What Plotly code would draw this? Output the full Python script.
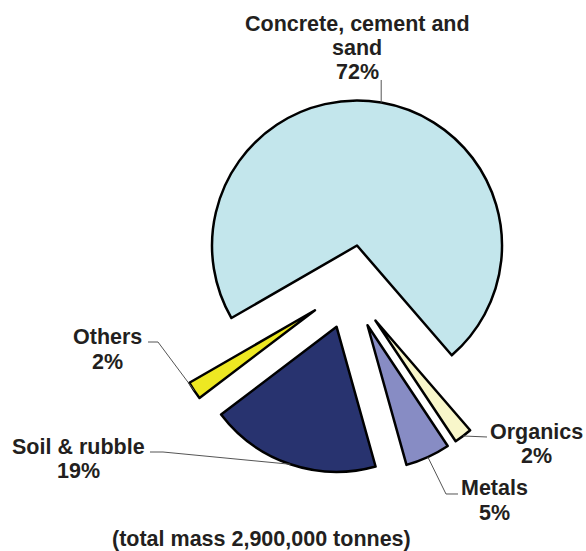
import math
import plotly.graph_objects as go

# ---- data ----
categories = ["Concrete, cement and sand", "Organics", "Metals", "Soil & rubble", "Others"]
values = [72, 2, 5, 19, 2]
colors = ["#C3E6EC", "#F8F6CA", "#878CC4", "#28336F", "#EDE822"]
label_lines = [
    ["Concrete, cement and", "sand", "72%"],
    ["Organics", "2%"],
    ["Metals", "5%"],
    ["Soil & rubble", "19%"],
    ["Others", "2%"],
]
footnote = "(total mass 2,900,000 tonnes)"

# ---- layout geometry (pixels) ----
W, H = 586, 551
CX, CY = 350, 287
R = 145
PULL = 0.29
ROTATION = 240
LINE_H = 24.5
FONT = dict(family="Liberation Sans, Arial, sans-serif", size=21.5, color="#231F20", weight="bold")

label_pos = [(357, 23.5), (536, 431.7), (494, 488), (78, 446.7), (107.5, 337)]
leader_tail = [
    [(None, 80)],
    [(487, 437)],
    [(446, 494), (458, 494)],
    [(163, 452), (150, 452)],
    [(158, 342), (148, 342)],
]

half = R * (1 + PULL)
domain_x = [(CX - half) / W, (CX + half) / W]
domain_y = [(H - CY - half) / H, (H - CY + half) / H]


def px(x):
    return x / W


def py(y):
    return 1 - y / H


total = sum(values)
fig = go.Figure(go.Pie(
    labels=categories, values=values, sort=False, direction="clockwise",
    rotation=ROTATION, pull=[PULL] * len(values), textinfo="none",
    hoverinfo="label+percent",
    marker=dict(colors=colors, line=dict(color="black", width=2.5)),
    domain=dict(x=domain_x, y=domain_y), showlegend=False,
))

annotations = []
shapes = []
cum = 0
for i, v in enumerate(values):
    mid = math.radians(ROTATION + (cum + v / 2) / total * 360)
    cum += v
    d = R * (1 + PULL)
    ax, ay = CX + d * math.sin(mid), CY - d * math.cos(mid)
    pts = [(ax, ay)] + [((ax if x is None else x), y) for x, y in leader_tail[i]]
    path = "M " + " L ".join(f"{px(x):.5f},{py(y):.5f}" for x, y in pts)
    shapes.append(dict(type="path", xref="paper", yref="paper", path=path,
                       line=dict(color="#555555", width=1)))
    lx, ly = label_pos[i]
    for j, t in enumerate(label_lines[i]):
        annotations.append(dict(text=t, x=px(lx), y=py(ly + j * LINE_H), xref="paper", yref="paper",
                                xanchor="center", yanchor="middle", showarrow=False, font=FONT))

annotations.append(dict(text=footnote, x=px(261.5), y=py(538.5), xref="paper", yref="paper",
                        xanchor="center", yanchor="middle", showarrow=False, font=FONT))

fig.update_layout(width=W, height=H, margin=dict(l=0, r=0, t=0, b=0),
                  paper_bgcolor="white", plot_bgcolor="white",
                  annotations=annotations, shapes=shapes)
fig.write_html("out.html")
